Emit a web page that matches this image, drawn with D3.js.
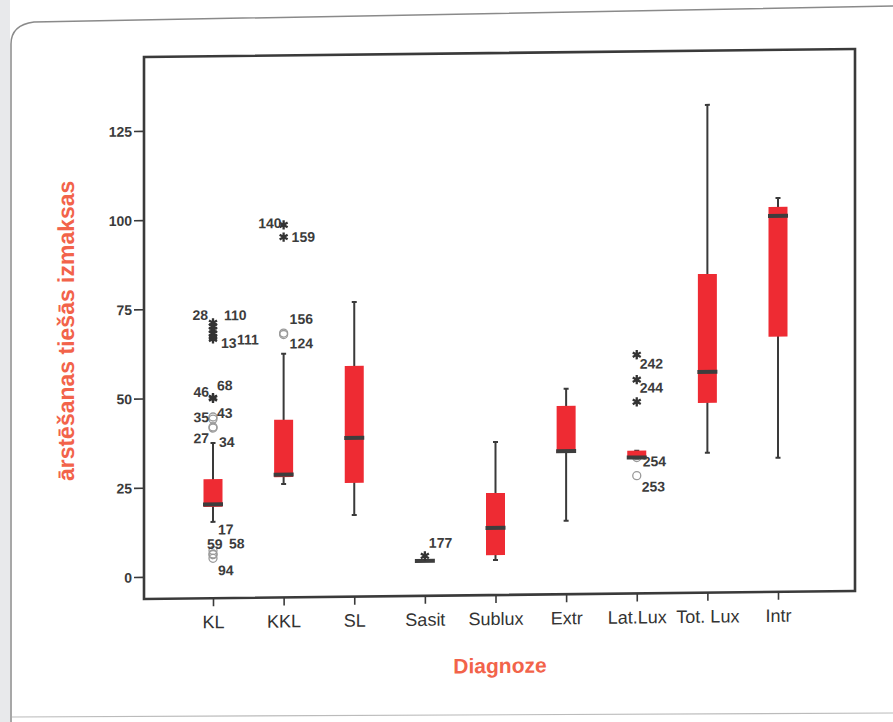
<!DOCTYPE html>
<html>
<head>
<meta charset="utf-8">
<title>Diagnoze</title>
<script src="https://d3js.org/d3.v7.min.js"></script>
<style>
  body { margin: 0; background: #fff; }
  svg { display: block; }
</style>
</head>
<body>
<div id="chart"></div>
<script>
// box plot summary per diagnosis
const categories  = ["KL", "KKL", "SL", "Sasit", "Sublux", "Extr", "Lat.Lux", "Tot. Lux", "Intr"];
const whiskerLow  = [15.2, 25.6, 16.7, 3.6, 3.6, 14.4, 31.6, 33.0, 31.4];
const q1          = [19.4, 27.5, 25.7, 3.6, 5.0, 33.4, 31.6, 47.0, 65.3];
const median      = [20.1, 28.2, 38.3, 3.6, 12.6, 33.9, 31.9, 55.7, 99.2];
const q3          = [27.2, 43.6, 58.5, 3.6, 22.4, 46.6, 33.8, 83.1, 101.7];
const whiskerHigh = [37.3, 62.1, 76.4, 3.6, 36.7, 51.4, 33.8, 130.5, 104.2];
const yTicks      = [0, 25, 50, 75, 100, 125];

// outliers: [category, value, case number, kind]  ("o" = outlier, "x" = extreme)
const outliers = [
  ["KL", 71.0, "28", "x"], ["KL", 70.0, "110", "x"], ["KL", 69.0, null, "x"],
  ["KL", 68.0, null, "x"], ["KL", 67.0, "13", "x"], ["KL", 66.5, "111", "x"],
  ["KL", 50.0, "46", "x"], ["KL", 49.8, "68", "x"],
  ["KL", 44.6, "35", "o"], ["KL", 44.0, "43", "o"],
  ["KL", 41.8, "27", "o"], ["KL", 41.5, "34", "o"],
  ["KL", 7.2, "17", "o"], ["KL", 6.2, "59", "o"], ["KL", 6.0, "58", "o"], ["KL", 5.0, "94", "o"],
  ["KKL", 98.2, "140", "x"], ["KKL", 94.8, "159", "x"],
  ["KKL", 67.9, "156", "o"], ["KKL", 67.5, "124", "o"],
  ["Sasit", 5.0, "177", "x"],
  ["Lat.Lux", 60.7, "242", "x"], ["Lat.Lux", 53.7, "244", "x"], ["Lat.Lux", 47.5, null, "x"],
  ["Lat.Lux", 31.9, "254", "o"], ["Lat.Lux", 26.8, "253", "o"]
];

// where each case number sits next to its marker: [dx, dy, anchor]
const labelOffsets = {
  "28": [-5, -3, "end"], "110": [11, -6, "start"], "13": [8, 11, "start"], "111": [24, 6, "start"],
  "46": [-4, -1, "end"], "68": [4, -8, "start"],
  "35": [-4, 5, "end"], "43": [4, -1, "start"],
  "27": [-4, 16, "end"], "34": [6, 19, "start"],
  "17": [5, -16, "start"], "59": [-6, -5, "start"], "58": [16, -6, "start"], "94": [5, 17, "start"],
  "140": [-2, 3, "end"], "159": [8, 5, "start"], "156": [6, -9, "start"], "124": [6, 14, "start"],
  "177": [4, -8, "start"],
  "242": [3, 14, "start"], "244": [3, 13, "start"], "254": [6, 9, "start"], "253": [5, 16, "start"]
};

const W = 893, H = 722;
const frame = { left: 144, right: 855, top: 53, bottom: 595 };
const red = "#ee2b33", ink = "#3a3a3a", title = "#f2634a";

const svg = d3.select("#chart").append("svg")
  .attr("width", W).attr("height", H)
  .style("font-family", "'Liberation Sans', Arial, sans-serif");

// page edge
svg.append("rect").attr("width", 10).attr("height", H).attr("fill", "#e8e9eb");
svg.append("path")
  .attr("d", "M11,722 L11,44 Q11,25 34,22 L893,6")
  .attr("fill", "none").attr("stroke", "#8a8a8a").attr("stroke-width", 1.5);
svg.append("path")
  .attr("d", "M12,717 L893,713")
  .attr("fill", "none").attr("stroke", "#bbb").attr("stroke-width", 1.2);

// the printed figure is slightly tilted
const g = svg.append("g")
  .attr("transform", "translate(500,0) skewY(-0.65) translate(-500,0)");

const x = d3.scalePoint().domain(categories).range([213, 778]);
const y = d3.scaleLinear().domain([-6.2, 145.7]).range([frame.bottom, frame.top]);

// frame
g.append("rect")
  .attr("x", frame.left).attr("y", frame.top)
  .attr("width", frame.right - frame.left).attr("height", frame.bottom - frame.top)
  .attr("fill", "none").attr("stroke", ink).attr("stroke-width", 2.6);

// y axis
const yAxis = g.append("g")
  .attr("transform", `translate(${frame.left},0)`)
  .call(d3.axisLeft(y).tickValues(yTicks).tickSize(10).tickPadding(2));
yAxis.select(".domain").remove();
yAxis.selectAll("line").attr("stroke", ink).attr("stroke-width", 1.6);
yAxis.selectAll("text")
  .attr("fill", ink).style("font-size", "14px").style("font-weight", "bold")
  .attr("dy", "0.36em");

// x axis
const xAxis = g.append("g")
  .attr("transform", `translate(0,${frame.bottom})`)
  .call(d3.axisBottom(x).tickSize(8));
xAxis.select(".domain").remove();
xAxis.selectAll("line").attr("stroke", ink).attr("stroke-width", 1.6);
xAxis.selectAll("text")
  .attr("y", 30).attr("dy", 0)
  .attr("fill", "#333").style("font-size", "18px");

// boxes
const boxW = 19, capW = 5;
const rows = categories.map((c, i) => ({
  cat: c, lo: whiskerLow[i], q1: q1[i], med: median[i], q3: q3[i], hi: whiskerHigh[i]
}));

const box = g.selectAll(".box").data(rows).enter().append("g")
  .attr("class", "box")
  .attr("transform", d => `translate(${x(d.cat)},0)`);

box.append("line")
  .attr("y1", d => y(d.hi)).attr("y2", d => y(d.lo))
  .attr("stroke", ink).attr("stroke-width", 2);
box.append("line")
  .attr("x1", -capW / 2).attr("x2", capW / 2)
  .attr("y1", d => y(d.hi)).attr("y2", d => y(d.hi))
  .attr("stroke", ink).attr("stroke-width", 2);
box.append("line")
  .attr("x1", -capW / 2).attr("x2", capW / 2)
  .attr("y1", d => y(d.lo)).attr("y2", d => y(d.lo))
  .attr("stroke", ink).attr("stroke-width", 2);

// outlier circles sit under the boxes
const pts = outliers.map(o => ({ cat: o[0], value: o[1], id: o[2], kind: o[3] }));

g.selectAll(".out").data(pts.filter(p => p.kind === "o")).enter().append("circle")
  .attr("class", "out")
  .attr("cx", d => x(d.cat)).attr("cy", d => y(d.value)).attr("r", 4)
  .attr("fill", "none").attr("stroke", "#9a9a9a").attr("stroke-width", 1.3);

box.append("rect")
  .attr("x", -boxW / 2).attr("width", boxW)
  .attr("y", d => y(d.q3)).attr("height", d => y(d.q1) - y(d.q3))
  .attr("fill", red);
box.append("rect")
  .attr("x", -boxW / 2 - 0.5).attr("width", boxW + 1)
  .attr("y", d => y(d.med) - 2).attr("height", 4)
  .attr("fill", "#3d3d3d");
g.selectAll(".box").raise();

const star = d3.symbol().type(d3.symbolAsterisk).size(60);
g.selectAll(".ext").data(pts.filter(p => p.kind === "x")).enter().append("path")
  .attr("class", "ext")
  .attr("transform", d => `translate(${x(d.cat)},${y(d.value)})`)
  .attr("d", star)
  .attr("fill", "none").attr("stroke", "#333").attr("stroke-width", 2.3);

// case numbers
g.selectAll(".case").data(pts.filter(p => p.id)).enter().append("text")
  .attr("class", "case")
  .attr("x", d => x(d.cat) + labelOffsets[d.id][0])
  .attr("y", d => y(d.value) + labelOffsets[d.id][1])
  .attr("text-anchor", d => labelOffsets[d.id][2])
  .attr("fill", "#3c3c3c")
  .style("font-size", "14px").style("font-weight", "bold")
  .text(d => d.id);

// axis titles
g.append("text")
  .attr("x", 500).attr("y", 673)
  .attr("text-anchor", "middle")
  .attr("fill", title).style("font-size", "21px").style("font-weight", "bold")
  .text("Diagnoze");

g.append("text")
  .attr("transform", "translate(74,326) rotate(-90)")
  .attr("text-anchor", "middle")
  .attr("fill", title).style("font-size", "23px").style("font-weight", "bold")
  .text("ārstēšanas tiešās izmaksas");
</script>
</body>
</html>
